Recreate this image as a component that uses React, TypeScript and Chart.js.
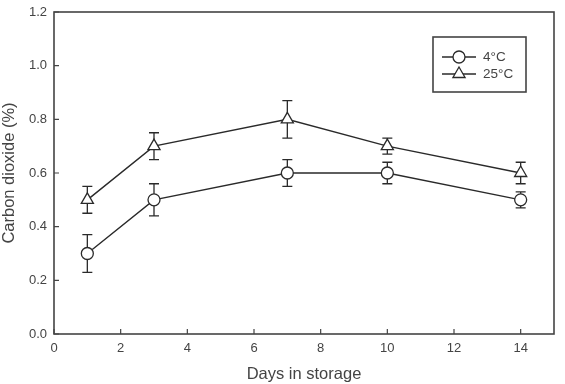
import React, { useEffect, useRef } from "react";
import { Chart, registerables } from "chart.js";

Chart.register(...registerables);

const days = [1, 3, 7, 10, 14];
const co2At4 = [0.3, 0.5, 0.6, 0.6, 0.5];
const err4 = [0.07, 0.06, 0.05, 0.04, 0.03];
const co2At25 = [0.5, 0.7, 0.8, 0.7, 0.6];
const err25 = [0.05, 0.05, 0.07, 0.03, 0.04];
const seriesLabels = ["4°C", "25°C"];

const FONT = "'Liberation Sans', Arial, sans-serif";
const INK = "#2a2a2a";
const TEXT = "#444";

const errorBarPlugin = {
  id: "errorBars",
  beforeDatasetsDraw(chart: any) {
    const { ctx, scales } = chart;
    const x = scales.x;
    const y = scales.y;
    const errs = [err4, err25];
    ctx.save();
    ctx.strokeStyle = INK;
    ctx.lineWidth = 1.3;
    chart.data.datasets.forEach((ds: any, i: number) => {
      ds.data.forEach((p: any, j: number) => {
        const px = x.getPixelForValue(p.x);
        const top = y.getPixelForValue(p.y + errs[i][j]);
        const bot = y.getPixelForValue(p.y - errs[i][j]);
        ctx.beginPath();
        ctx.moveTo(px, top);
        ctx.lineTo(px, bot);
        ctx.moveTo(px - 5, top);
        ctx.lineTo(px + 5, top);
        ctx.moveTo(px - 5, bot);
        ctx.lineTo(px + 5, bot);
        ctx.stroke();
      });
    });
    ctx.restore();
  },
};

const framePlugin = {
  id: "frame",
  afterDraw(chart: any) {
    const { ctx, chartArea, scales } = chart;
    const { left, right, top, bottom } = chartArea;
    ctx.save();
    ctx.strokeStyle = "#444";
    ctx.lineWidth = 1.6;
    ctx.strokeRect(left, top, right - left, bottom - top);
    ctx.lineWidth = 1.2;
    ctx.beginPath();
    scales.x.ticks.forEach((t: any) => {
      const px = scales.x.getPixelForValue(t.value);
      ctx.moveTo(px, bottom);
      ctx.lineTo(px, bottom - 5);
    });
    scales.y.ticks.forEach((t: any) => {
      const py = scales.y.getPixelForValue(t.value);
      ctx.moveTo(left, py);
      ctx.lineTo(left + 5, py);
    });
    ctx.stroke();

    // legend
    const bx = 433, by = 37, bw = 93, bh = 55;
    ctx.lineWidth = 1.6;
    ctx.strokeStyle = "#444";
    ctx.strokeRect(bx, by, bw, bh);
    const rows = [57, 74];
    rows.forEach((ry, i) => {
      ctx.strokeStyle = INK;
      ctx.lineWidth = 1.3;
      ctx.beginPath();
      ctx.moveTo(442, ry);
      ctx.lineTo(476, ry);
      ctx.stroke();
      ctx.fillStyle = "#fff";
      ctx.beginPath();
      if (i === 0) {
        ctx.arc(459, ry, 6, 0, Math.PI * 2);
      } else {
        const r = 7;
        ctx.moveTo(459, ry - r);
        ctx.lineTo(459 + r * Math.sin((2 * Math.PI) / 3), ry - r * Math.cos((2 * Math.PI) / 3));
        ctx.lineTo(459 - r * Math.sin((2 * Math.PI) / 3), ry - r * Math.cos((2 * Math.PI) / 3));
        ctx.closePath();
      }
      ctx.fill();
      ctx.stroke();
      ctx.fillStyle = TEXT;
      ctx.font = `13.5px ${FONT}`;
      ctx.textAlign = "left";
      ctx.textBaseline = "middle";
      ctx.fillText(seriesLabels[i], 483, ry);
    });
    ctx.restore();
  },
};

export default function App() {
  const ref = useRef<HTMLCanvasElement>(null);
  useEffect(() => {
    if (!ref.current) return;
    const chart = new Chart(ref.current, {
      type: "line",
      data: {
        datasets: [
          {
            label: seriesLabels[0],
            data: days.map((d, i) => ({ x: d, y: co2At4[i] })),
            borderColor: INK,
            borderWidth: 1.4,
            pointStyle: "circle",
            pointRadius: 6,
            pointBackgroundColor: "#fff",
            pointBorderColor: INK,
            pointBorderWidth: 1.3,
          },
          {
            label: seriesLabels[1],
            data: days.map((d, i) => ({ x: d, y: co2At25[i] })),
            borderColor: INK,
            borderWidth: 1.4,
            pointStyle: "triangle",
            pointRadius: 7,
            pointBackgroundColor: "#fff",
            pointBorderColor: INK,
            pointBorderWidth: 1.3,
          },
        ],
      },
      options: {
        responsive: false,
        animation: false,
        layout: { padding: { top: 12, right: 11, left: 0, bottom: 0 } },
        plugins: { legend: { display: false }, tooltip: { enabled: false } },
        scales: {
          x: {
            type: "linear",
            min: 0,
            max: 15,
            grid: { display: false, drawTicks: false },
            border: { display: false },
            ticks: {
              stepSize: 2,
              includeBounds: false,
              padding: 7,
              color: TEXT,
              font: { family: FONT, size: 13 },
              maxRotation: 0,
            },
            afterBuildTicks: (s: any) => {
              s.ticks = s.ticks.filter((t: any) => t.value % 2 === 0);
            },
            afterFit: (s: any) => {
              s.height = 50;
              s.paddingLeft = 0;
              s.paddingRight = 0;
            },
            title: {
              display: true,
              text: "Days in storage",
              color: TEXT,
              font: { family: FONT, size: 16.5 },
              padding: { top: 0, bottom: 0 },
            },
          },
          y: {
            type: "linear",
            min: 0,
            max: 1.2,
            grid: { display: false, drawTicks: false },
            border: { display: false },
            ticks: {
              stepSize: 0.2,
              padding: 7,
              color: TEXT,
              font: { family: FONT, size: 13 },
              callback: (v: any) => Number(v).toFixed(1),
            },
            afterFit: (s: any) => {
              s.width = 54;
              s.paddingTop = 0;
              s.paddingBottom = 0;
            },
            title: {
              display: true,
              text: "Carbon dioxide (%)",
              color: TEXT,
              font: { family: FONT, size: 16.5 },
              padding: { top: 0, bottom: 0 },
            },
          },
        },
      },
      plugins: [errorBarPlugin, framePlugin],
    } as any);
    return () => chart.destroy();
  }, []);
  return (
    <div style={{ position: "fixed", left: 0, top: 0, width: 565, height: 384, background: "#fff" }}>
      <canvas ref={ref} width={565} height={384} />
    </div>
  );
}
